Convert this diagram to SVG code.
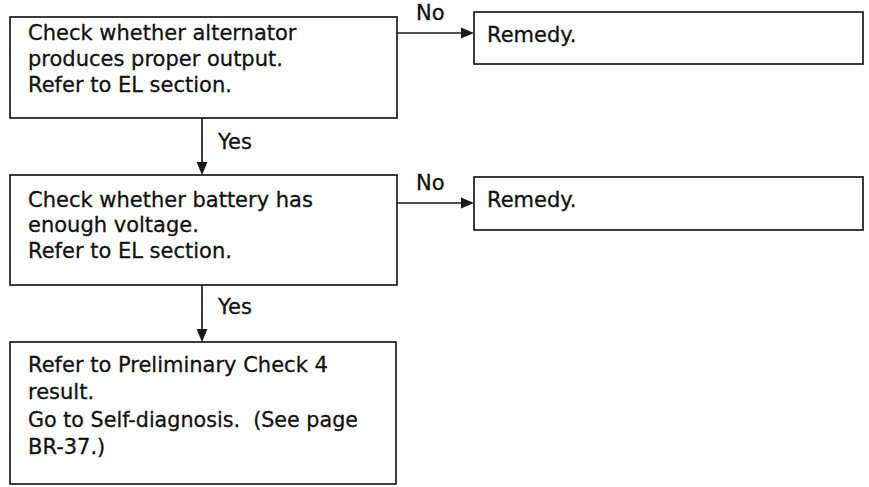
<svg xmlns="http://www.w3.org/2000/svg" width="869" height="487" viewBox="0 0 869 487">
<defs>
<style>
.box{fill:#fff;stroke:#1a1a1a;stroke-width:1.7}
.t{font-family:"DejaVu Sans",sans-serif;font-size:21px;fill:#111;stroke:#111;stroke-width:0.3}
.c{stroke:#1a1a1a;stroke-width:1.7;fill:none}
.ah{fill:#1a1a1a}
</style>
</defs>
<rect width="869" height="487" fill="#fff"/>
<g id="n1">
<rect class="box" x="10" y="17" width="387" height="101"/>
<text class="t" x="28" y="40">Check whether alternator</text>
<text class="t" x="28" y="66">produces proper output.</text>
<text class="t" x="28" y="92">Refer to EL section.</text>
</g>
<g id="r1">
<rect class="box" x="474" y="12" width="389" height="52"/>
<text class="t" x="487" y="42">Remedy.</text>
</g>
<g id="n2">
<rect class="box" x="10" y="175" width="387" height="110"/>
<text class="t" x="28" y="207">Check whether battery has</text>
<text class="t" x="28" y="232">enough voltage.</text>
<text class="t" x="28" y="258">Refer to EL section.</text>
</g>
<g id="r2">
<rect class="box" x="474" y="177" width="389" height="53"/>
<text class="t" x="487" y="207">Remedy.</text>
</g>
<g id="n3">
<rect class="box" x="10" y="342" width="386" height="142"/>
<text class="t" x="28" y="372">Refer to Preliminary Check 4</text>
<text class="t" x="28" y="399">result.</text>
<text class="t" x="28" y="427" textLength="330" lengthAdjust="spacingAndGlyphs">Go to Self-diagnosis.&#160; (See page</text>
<text class="t" x="28" y="454">BR-37.)</text>
</g>
<g id="connectors">
<line class="c" x1="397" y1="33" x2="463" y2="33"/>
<polygon class="ah" points="474,33 461,27.5 461,38.5"/>
<text class="t" x="416" y="20">No</text>
<line class="c" x1="202" y1="118" x2="202" y2="163"/>
<polygon class="ah" points="202,175 196.5,162 207.5,162"/>
<text class="t" x="218" y="149">Yes</text>
<line class="c" x1="397" y1="203" x2="463" y2="203"/>
<polygon class="ah" points="474,203 461,197.5 461,208.5"/>
<text class="t" x="416" y="190">No</text>
<line class="c" x1="202" y1="285" x2="202" y2="330"/>
<polygon class="ah" points="202,342 196.5,329 207.5,329"/>
<text class="t" x="218" y="314">Yes</text>
</g>
</svg>
